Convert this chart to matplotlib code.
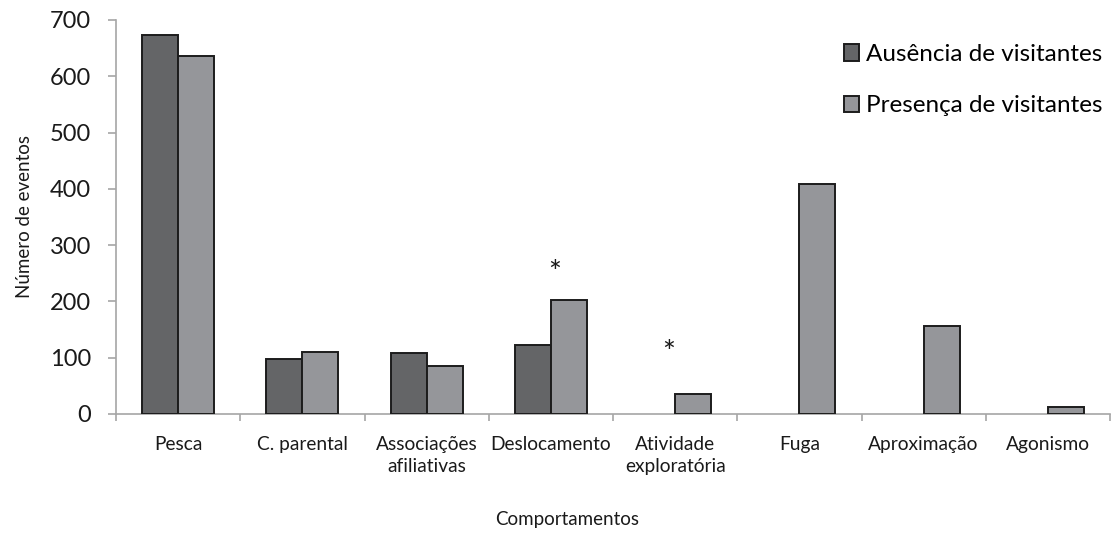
import matplotlib
matplotlib.use("Agg")
import matplotlib.pyplot as plt
from matplotlib.patches import Patch
import numpy as np

plt.rcParams['font.family'] = ['Lato', 'DejaVu Sans']

categories = ["Pesca", "C. parental", "Associações\nafiliativas", "Deslocamento",
              "Atividade\nexploratória", "Fuga", "Aproximação", "Agonismo"]
ausencia = [673, 97, 109, 123, 0, 0, 0, 0]
presenca = [636, 111, 86, 202, 36, 409, 157, 13]
series_names = ["Ausência de visitantes", "Presença de visitantes"]
yticks = [0, 100, 200, 300, 400, 500, 600, 700]
asterisks = [(3, 250), (4, 108)]

dark = "#646567"
light = "#95969a"
edge = "#1c1c1c"
axcol = "#a6a6a6"
txt = "#1a1a1a"

fig = plt.figure(figsize=(11.14, 5.33), dpi=100)
ax = fig.add_axes([116/1114, 1-414/533, (1110-116)/1114, (414-20)/533])

x = np.arange(len(categories))
w = 0.29
ax.bar(x - w/2, ausencia, width=w, color=dark, edgecolor=edge,
       linewidth=[1.4 if v > 0 else 0 for v in ausencia], zorder=3)
ax.bar(x + w/2, presenca, width=w, color=light, edgecolor=edge,
       linewidth=[1.4 if v > 0 else 0 for v in presenca], zorder=3)

for i, yv in asterisks:
    ax.text(i + (0.03 if i == 3 else -0.05), yv, "*", ha="center", va="center", fontsize=22, color=txt)

ax.set_xlim(-0.5, len(categories) - 0.5)
ax.set_ylim(0, 700)
ax.set_yticks(yticks)
ax.set_yticklabels([str(v) for v in yticks], fontsize=17, color=txt)
ax.set_xticks(x)
ax.set_xticklabels(categories, fontsize=13.8, color=txt, linespacing=1.35)
ax.set_xticks(np.arange(-0.5, len(categories) + 0.5, 1), minor=True)
ax.tick_params(axis='x', which='major', length=0, pad=16)
ax.tick_params(axis='x', which='minor', length=5, color=axcol, width=1.2)
ax.tick_params(axis='y', length=6, color=axcol, width=1.2, pad=12)

for s in ["top", "right"]:
    ax.spines[s].set_visible(False)
for s in ["left", "bottom"]:
    ax.spines[s].set_color(axcol)
    ax.spines[s].set_linewidth(1.2)

ax.set_ylabel("Número de eventos", fontsize=13.5, color=txt)
ax.yaxis.set_label_coords(-0.083, 0.5)
fig.text(567 / 1114, 1 - 519/533, "Comportamentos", ha="center", va="center",
         fontsize=13.5, color=txt)

handles = [Patch(facecolor=dark, edgecolor=edge, linewidth=1.4),
           Patch(facecolor=light, edgecolor=edge, linewidth=1.4)]
fig.legend(handles, series_names, loc="upper right", bbox_to_anchor=(1102/1114, 1 - 44/533),
           frameon=False, fontsize=17.5, handlelength=0.65, handleheight=0.65,
           handletextpad=0.25, labelspacing=1.25, borderaxespad=0, borderpad=0)

fig.savefig("out.png", dpi=100)
